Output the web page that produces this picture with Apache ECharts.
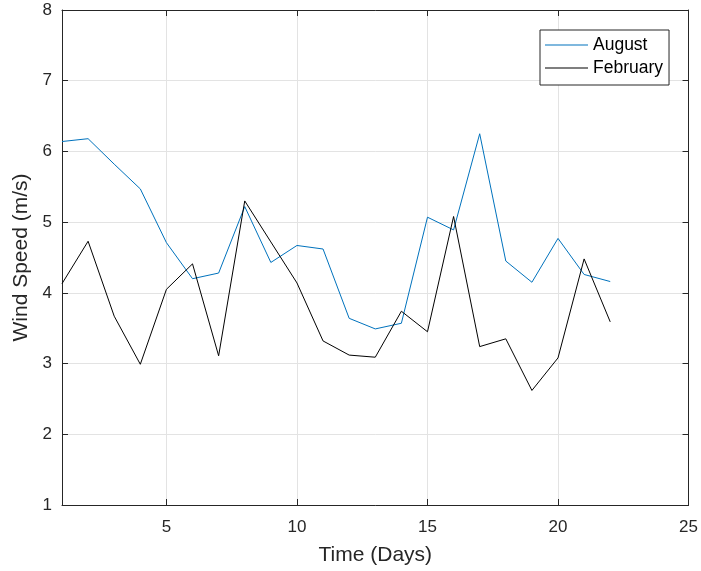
<!DOCTYPE html>
<html>
<head>
<meta charset="utf-8">
<script src="https://cdn.jsdelivr.net/npm/echarts@6/dist/echarts.min.js"></script>
<style>html,body{margin:0;padding:0;background:#fff;}#c{width:701px;height:571px;}</style>
</head>
<body>
<div id="c"></div>
<script>
const days = [1,2,3,4,5,6,7,8,9,10,11,12,13,14,15,16,17,18,19,20,21,22];
const august = [6.14,6.18,5.82,5.47,4.71,4.20,4.28,5.22,4.43,4.67,4.62,3.64,3.49,3.57,5.07,4.89,6.25,4.45,4.15,4.77,4.26,4.16];
const february = [4.13,4.73,3.67,2.99,4.05,4.41,3.11,5.30,4.72,4.14,3.32,3.12,3.09,3.74,3.45,5.08,3.24,3.35,2.62,3.08,4.48,3.59];
const xTicks = [5,10,15,20,25];
const yTicks = [1,2,3,4,5,6,7,8];

const font = 'Liberation Sans, Arial, sans-serif';
const axisCol = '#262626';
const gridCol = '#e3e3e3';

const chart = echarts.init(document.getElementById('c'), null, {renderer:'canvas'});
const pair = (ys) => days.map((d,i) => [d, ys[i]]);

chart.setOption({
  animation: false,
  backgroundColor: '#fff',
  grid: {left: 62, right: 11, top: 10, bottom: 64, containLabel: false},
  legend: {
    orient: 'vertical', left: 540, top: 30,
    data: ['August','February'],
    icon: 'rect',
    itemWidth: 43, itemHeight: 1, itemGap: 5,
    padding: [6, 6, 8, 5],
    borderColor: '#262626', borderWidth: 1, backgroundColor: '#fff',
    textStyle: {fontFamily: font, fontSize: 17.5, color: '#000', padding: [0,0,0,0]}
  },
  xAxis: [{
    type: 'value', min: 1, max: 25,
    name: 'Time (Days)', nameLocation: 'middle', nameGap: 40,
    nameTextStyle: {fontFamily: font, fontSize: 21, color: '#262626'},
    axisLine: {show: true, onZero: false, lineStyle: {color: axisCol, width: 1}},
    axisTick: {show: true, inside: true, length: 6, customValues: xTicks, lineStyle: {color: axisCol}},
    axisLabel: {customValues: xTicks, fontFamily: font, fontSize: 17, color: '#262626', margin: 14},
    splitLine: {show: true, lineStyle: {color: gridCol, width: 1}}
  },{
    type: 'value', min: 1, max: 25, position: 'top',
    axisLine: {show: true, onZero: false, lineStyle: {color: axisCol, width: 1}},
    axisTick: {show: true, inside: true, length: 6, customValues: xTicks, lineStyle: {color: axisCol}},
    axisLabel: {show: false},
    splitLine: {show: false}
  }],
  yAxis: [{
    type: 'value', min: 1, max: 8, interval: 1,
    name: 'Wind Speed (m/s)', nameLocation: 'middle', nameGap: 25,
    nameTextStyle: {fontFamily: font, fontSize: 21, color: '#262626'},
    axisLine: {show: true, onZero: false, lineStyle: {color: axisCol, width: 1}},
    axisTick: {show: true, inside: true, length: 6, lineStyle: {color: axisCol}},
    axisLabel: {fontFamily: font, fontSize: 17, color: '#262626', margin: 10},
    splitLine: {show: true, lineStyle: {color: gridCol, width: 1}}
  },{
    type: 'value', min: 1, max: 8, interval: 1, position: 'right',
    axisLine: {show: true, onZero: false, lineStyle: {color: axisCol, width: 1}},
    axisTick: {show: true, inside: true, length: 6, lineStyle: {color: axisCol}},
    axisLabel: {show: false},
    splitLine: {show: false}
  }],
  series: [{
    name: 'August', type: 'line', data: pair(august),
    showSymbol: false, symbol: 'none',
    lineStyle: {color: '#0072BD', width: 1}, itemStyle: {color: '#0072BD'}
  },{
    name: 'February', type: 'line', data: pair(february),
    showSymbol: false, symbol: 'none',
    lineStyle: {color: '#000', width: 1}, itemStyle: {color: '#000'}
  }]
});
</script>
</body>
</html>
